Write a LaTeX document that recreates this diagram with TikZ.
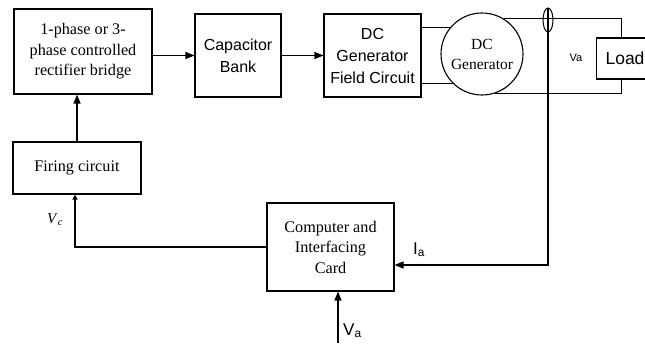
\documentclass[tikz,border=0pt]{standalone}
\usepackage{fontspec}
\setmainfont{Liberation Serif}
\setsansfont{Liberation Sans}
\usetikzlibrary{arrows.meta,shapes.geometric}
\begin{document}
\begin{tikzpicture}[x=1pt,y=-1pt,
  box/.style={draw,line width=1.1pt,rectangle,inner sep=0pt,align=center},
  serif/.style={font=\fontsize{16.2}{20.5}\selectfont},
  sans/.style={font=\sffamily\fontsize{16}{22}\selectfont},
  wire/.style={line width=0.9pt},
  arr/.style={line width=1.3pt,-{Triangle[length=9pt,width=7pt]}},
  sarr/.style={line width=1.3pt,-{Triangle[length=5pt,width=5pt]}},
  lbl/.style={inner sep=0pt,anchor=base west}]
\useasboundingbox (0,0) rectangle (645,343);
% blocks
\node[box,serif,minimum width=138pt,minimum height=85pt] (rect) at (83,51.5) {1-phase or 3-\\phase controlled\\rectifier bridge};
\node[box,sans,minimum width=86pt,minimum height=83pt] (cap) at (238,55.5) {Capacitor\\Bank};
\node[box,sans,minimum width=97pt,minimum height=83pt] (field) at (372.5,55.5) {DC\\Generator\\Field Circuit};
\node[draw,circle,line width=1.1pt,minimum size=82pt,inner sep=0pt,align=center,font=\fontsize{15.5}{20}\selectfont] (gen) at (482,54) {DC\\Generator};
\node[draw,ellipse,line width=1pt,minimum width=10pt,minimum height=24pt,inner sep=0pt] (sensor) at (548,20) {};
\node[draw,line width=1.1pt,anchor=west,minimum height=41pt,text width=50pt,inner xsep=9pt,align=left,font=\sffamily\fontsize{17.5}{21}\selectfont] (load) at (596,58.5) {Load};
\node[box,serif,minimum width=128pt,minimum height=52pt] (fire) at (77,168) {Firing circuit};
\node[box,serif,minimum width=127pt,minimum height=88pt] (comp) at (330.5,247) {Computer and\\Interfacing\\Card};
% helper coordinates
\coordinate (rt) at (621,0);
\coordinate (ia) at (548,265);
\coordinate (vc) at (75,0);
\coordinate (vab) at (338,343);
% connectors
\draw[arr] (fire.north) -- (fire.north |- rect.south);
\draw[arr] (rect.east |- cap.west) -- (cap.west);
\draw[arr] (cap.east) -- (field.west);
\draw[wire] (gen.140.6) -- (gen.140.6 -| field.east);
\draw[wire] (gen.225) -- (gen.225 -| field.east);
\draw[wire] (gen.58.6) -| (rt |- load.north);
\draw[wire] (gen.-72) -| (rt |- load.south);
\draw[arr] (sensor.north) -- (ia) -- (ia -| comp.east);
\draw[sarr] (comp.west) -| (vc |- fire.south);
\draw[arr] (vab) -- (vab |- comp.south);
% labels
\node[font=\sffamily\fontsize{11}{13}\selectfont] (valbl) at (576,58) {Va};
\node[lbl,font=\sffamily\fontsize{17}{20}\selectfont] (ialbl) at (413,254) {I\textsubscript{a}};
\node[lbl,font=\sffamily\fontsize{17}{20}\selectfont] (valbl2) at (343,335) {V\textsubscript{a}};
\node[lbl,font=\fontsize{15}{18}\selectfont] (vclbl) at (47,223) {\textit{V}\textsubscript{\textit{c}}};
\end{tikzpicture}
\end{document}
